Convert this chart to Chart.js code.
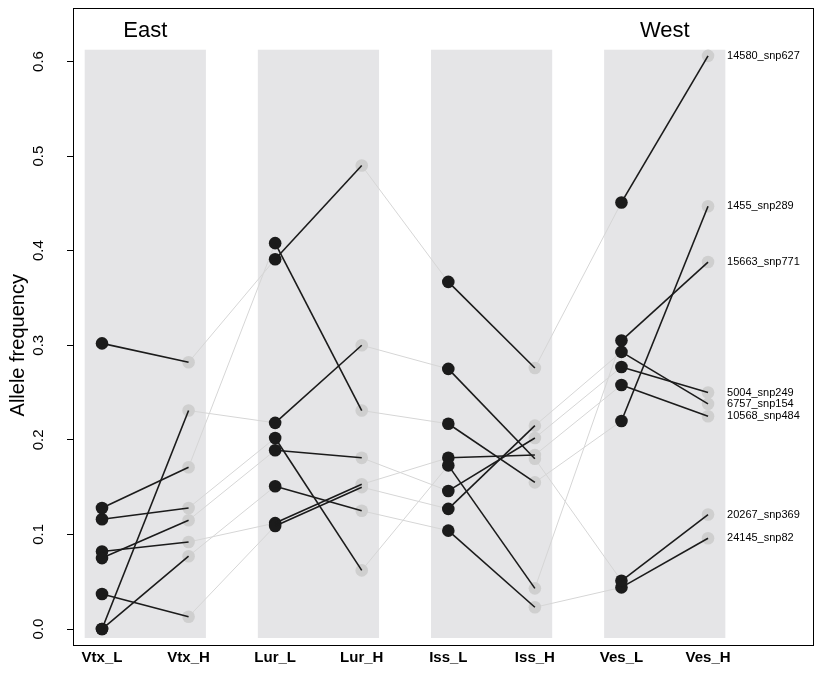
<!DOCTYPE html>
<html>
<head>
<meta charset="utf-8">
<script src="https://cdn.jsdelivr.net/npm/chart.js@4.4.1/dist/chart.umd.min.js"></script>
<style>
  html, body { margin: 0; padding: 0; background: #ffffff; }
  #wrap { width: 822px; height: 686px; }
</style>
</head>
<body>
<div id="wrap"><canvas id="chart" width="822" height="686"></canvas></div>
<script>
// Sampling sites: low (_L) and high (_H) elevation for each population
const populations = ['Vtx_L', 'Vtx_H', 'Lur_L', 'Lur_H', 'Iss_L', 'Iss_H', 'Ves_L', 'Ves_H'];
const regionLabels = ['East', 'West'];
const yTickValues = [0.0, 0.1, 0.2, 0.3, 0.4, 0.5, 0.6];

// Allele frequency of each SNP at every site
const snpNames = ['14580_snp627', '1455_snp289', '15663_snp771', '5004_snp249',
                  '6757_snp154', '10568_snp484', '20267_snp369', '24145_snp82'];
const snp627 = [0.302, 0.282, 0.391, 0.490, 0.367, 0.276, 0.451, 0.606];
const snp289 = [0.128, 0.171, 0.408, 0.231, 0.217, 0.155, 0.220, 0.447];
const snp771 = [0.116, 0.128, 0.202, 0.062, 0.173, 0.043, 0.305, 0.388];
const snp249 = [0.075, 0.115, 0.189, 0.181, 0.146, 0.202, 0.277, 0.250];
const snp154 = [0.037, 0.013, 0.109, 0.150, 0.127, 0.215, 0.293, 0.238];
const snp484 = [0.082, 0.092, 0.112, 0.153, 0.181, 0.184, 0.258, 0.225];
const snp369 = [0.000, 0.231, 0.218, 0.300, 0.275, 0.180, 0.051, 0.121];
const snp82  = [0.000, 0.077, 0.151, 0.125, 0.104, 0.023, 0.044, 0.096];
const snpSeries = [snp627, snp289, snp771, snp249, snp154, snp484, snp369, snp82];

// Styling
const FONT = '"Liberation Sans", Arial, Helvetica, sans-serif';
const BLACK = '#1b1b1b';
const LIGHT = '#cfcfcf';
const LIGHT_LINE = '#d6d6d6';
const BAND = '#e5e5e7';
const BAND_PAD = 0.2;          // band overhang beyond each L/H pair, in category units
const BAND_Y = [-0.0095, 0.6125];

const toPoints = vals => vals.map((v, i) => ({ x: i, y: v }));
const clear = 'rgba(0,0,0,0)';

const datasets = [];
snpSeries.forEach((vals, k) => {
  // grey connectors between populations (H -> next L), drawn underneath
  datasets.push({
    type: 'line', label: snpNames[k] + ' between', data: toPoints(vals), order: 3,
    borderWidth: 1, pointRadius: 0, fill: false,
    segment: { borderColor: c => (c.p0DataIndex % 2 === 1 ? LIGHT_LINE : clear) }
  });
  // the points themselves: L sites dark, H sites light
  datasets.push({
    type: 'line', label: snpNames[k] + ' points', data: toPoints(vals), order: 2,
    showLine: false, pointRadius: 6.3, pointHoverRadius: 6.3, pointBorderWidth: 0,
    pointBackgroundColor: vals.map((_, i) => (i % 2 === 0 ? BLACK : LIGHT))
  });
  // black lines within each population (L -> H), drawn on top
  datasets.push({
    type: 'line', label: snpNames[k] + ' within', data: toPoints(vals), order: 1,
    borderWidth: 1.6, pointRadius: 0, fill: false,
    segment: { borderColor: c => (c.p0DataIndex % 2 === 0 ? BLACK : clear) }
  });
});

const decorations = {
  id: 'decorations',
  beforeDatasetsDraw(chart) {
    const { ctx, scales: { x, y } } = chart;
    ctx.save();
    ctx.fillStyle = BAND;
    for (let i = 0; i < populations.length; i += 2) {
      const x1 = x.getPixelForValue(i - BAND_PAD);
      const x2 = x.getPixelForValue(i + 1 + BAND_PAD);
      const y1 = y.getPixelForValue(BAND_Y[1]);
      const y2 = y.getPixelForValue(BAND_Y[0]);
      ctx.fillRect(x1, y1, x2 - x1, y2 - y1);
    }
    ctx.restore();
  },
  afterDraw(chart) {
    const { ctx, chartArea: a, scales: { x, y } } = chart;
    ctx.save();
    // frame
    ctx.strokeStyle = '#000';
    ctx.lineWidth = 1;
    ctx.strokeRect(Math.round(a.left) + 0.5, Math.round(a.top) + 0.5,
                   Math.round(a.right - a.left) - 1, Math.round(a.bottom - a.top));
    // rotated y tick labels
    ctx.fillStyle = '#000';
    ctx.font = '15px ' + FONT;
    ctx.textAlign = 'center';
    ctx.textBaseline = 'middle';
    y.ticks.forEach(t => {
      ctx.save();
      ctx.translate(a.left - 34, y.getPixelForValue(t.value));
      ctx.rotate(-Math.PI / 2);
      ctx.fillText(t.value.toFixed(1), 0, 0);
      ctx.restore();
    });
    // y axis title
    ctx.save();
    ctx.font = '20px ' + FONT;
    ctx.translate(18, (y.getPixelForValue(0) + y.getPixelForValue(0.6)) / 2);
    ctx.rotate(-Math.PI / 2);
    ctx.fillText('Allele frequency', 0, 0);
    ctx.restore();
    // region headings over the first and last population band
    ctx.font = '22px ' + FONT;
    ctx.fillText(regionLabels[0], x.getPixelForValue(0.5), 31);
    ctx.fillText(regionLabels[1], x.getPixelForValue(populations.length - 1.5), 31);
    // SNP names beside the last column
    ctx.font = '11px ' + FONT;
    ctx.textAlign = 'left';
    const last = populations.length - 1;
    snpSeries.forEach((vals, k) => {
      ctx.fillText(snpNames[k], x.getPixelForValue(last) + 19, y.getPixelForValue(vals[last]));
    });
    ctx.restore();
  }
};

new Chart(document.getElementById('chart'), {
  type: 'line',
  data: { datasets },
  options: {
    responsive: false,
    animation: false,
    events: [],
    layout: { padding: { left: 0, top: 8, right: 8, bottom: 0 } },
    plugins: { legend: { display: false }, tooltip: { enabled: false } },
    scales: {
      x: {
        type: 'linear',
        min: -0.335, max: 8.224,
        afterBuildTicks: s => { s.ticks = populations.map((_, i) => ({ value: i })); },
        afterFit: s => { s.height = 41; },
        grid: { display: false, drawTicks: false },
        border: { display: false },
        ticks: {
          autoSkip: false, maxRotation: 0, minRotation: 0, padding: 4,
          color: '#000', font: { family: FONT, size: 15, weight: 'bold' },
          callback: v => populations[v]
        }
      },
      y: {
        type: 'linear',
        min: -0.0169, max: 0.6566,
        afterBuildTicks: s => { s.ticks = yTickValues.map(v => ({ value: v })); },
        afterFit: s => { s.width = 73; },
        grid: { drawOnChartArea: false, drawTicks: true, tickLength: 6, color: '#000' },
        border: { display: false },
        ticks: { display: false }
      }
    }
  },
  plugins: [decorations]
});
</script>
</body>
</html>
